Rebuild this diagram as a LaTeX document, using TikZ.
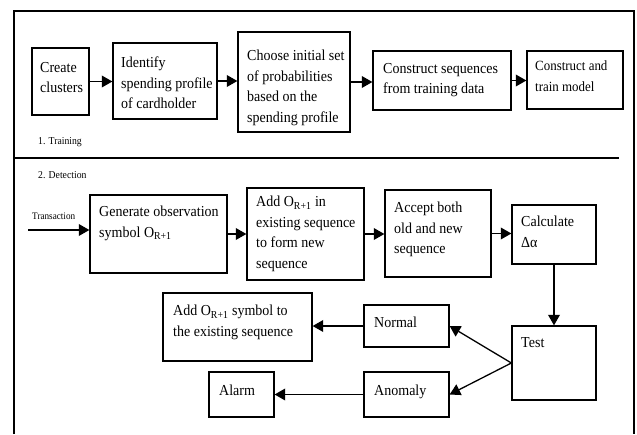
\documentclass[tikz,border=0pt]{standalone}
\usepackage{fontspec}
\setmainfont{Liberation Serif}[FakeStretch=0.92]
\usetikzlibrary{arrows.meta,fit}

\tikzset{
  blk/.style={draw, line width=1.1pt, inner sep=0pt},
  blktxt/.style={anchor=north west, inner sep=0pt, align=left, font=\fontsize{13}{17.5}\selectfont},
  small/.style={anchor=north west, inner sep=0pt, font=\fontsize{9}{11}\selectfont},
  flow/.style={line width=1.1pt, -{Triangle[length=9pt,width=10pt]}}
}

\begin{document}
\begin{tikzpicture}[x=0.03cm, y=-0.03cm]
  \useasboundingbox (0,0) rectangle (637,434);

  % frame and divider
  \draw[line width=1.7pt] (14,434) -- (14,11) -- (634,11) -- (634,434);
  \draw[line width=1.1pt] (14,158) -- (619,158);

  % 1. Training
  \node[blk, fit={(32,48) (89,115)}] (clusters) {};
  \node[blktxt] (clusterstxt) at (40,62) {Create\\clusters};
  \node[blk, fit={(113,43) (217,119)}] (profile) {};
  \node[blktxt] (profiletxt) at (121,57) {Identify\\spending profile\\of cardholder};
  \node[blk, fit={(238,32) (350,132)}] (prob) {};
  \node[blktxt] (probtxt) at (247,50) {Choose initial set\\of probabilities\\based on the\\spending profile};
  \node[blk, fit={(373,51) (511,110)}] (seqs) {};
  \node[blktxt] (seqstxt) at (383,63) {Construct sequences\\from training data};
  \node[blk, fit={(527,51) (623,109)}] (model) {};
  \node[blktxt, font=\fontsize{12}{17.5}\selectfont] (modeltxt) at (535,61) {Construct and\\train model};
  \node[small] (training) at (38,137) {1. Training};

  \draw[flow] (clusters.east) -- (clusters.east -| profile.west);
  \draw[flow] (profile.east) -- (profile.east -| prob.west);
  \draw[flow] (prob.east) -- (prob.east -| seqs.west);
  \draw[flow] (seqs.east) -- (seqs.east -| model.west);

  % 2. Detection
  \node[small] (detection) at (38,171) {2. Detection};
  \node[small, font=\fontsize{8.5}{10}\selectfont] (transaction) at (32,213) {Transaction};
  \coordinate (txin) at (28,230);

  \node[blk, fit={(90,195) (227,273)}] (observe) {};
  \node[blktxt] (observetxt) at (99,206) {Generate observation\\symbol O\textsubscript{R+1}};
  \node[blk, fit={(247,188) (364,280)}] (addnew) {};
  \node[blktxt] (addnewtxt) at (256,196) {Add O\textsubscript{R+1} in\\existing sequence\\to form new\\sequence};
  \node[blk, fit={(385,190) (491,277)}] (accept) {};
  \node[blktxt] (accepttxt) at (394,202) {Accept both\\old and new\\sequence};
  \node[blk, fit={(512,205) (596,264)}] (calc) {};
  \node[blktxt] (calctxt) at (521,216) {Calculate\\Δα};
  \node[blk, fit={(512,326) (596,400)}] (test) {};
  \node[blktxt] (testtxt) at (521,337) {Test};
  \node[blk, fit={(364,305) (449,347)}] (normal) {};
  \node[blktxt] (normaltxt) at (374,317) {Normal};
  \node[blk, fit={(364,372) (449,417)}] (anomaly) {};
  \node[blktxt] (anomalytxt) at (374,385) {Anomaly};
  \node[blk, fit={(163,293) (312,361)}] (addsym) {};
  \node[blktxt] (addsymtxt) at (173,305) {Add O\textsubscript{R+1} symbol to\\the existing sequence};
  \node[blk, fit={(209,372) (274,417)}] (alarm) {};
  \node[blktxt] (alarmtxt) at (219,385) {Alarm};

  \draw[flow] (txin) -- (txin -| observe.west);
  \draw[flow] (observe.east) -- (observe.east -| addnew.west);
  \draw[flow] (addnew.east) -- (addnew.east -| accept.west);
  \draw[flow] (accept.east) -- (accept.east -| calc.west);
  \draw[flow] (calc.south) -- (test.north);
  \draw[flow] (test.west) -- (normal.east);
  \draw[flow] (test.west) -- (anomaly.east);
  \draw[flow] (normal.west) -- (normal.west -| addsym.east);
  \draw[flow] (anomaly.west) -- (anomaly.west -| alarm.east);
\end{tikzpicture}
\end{document}
